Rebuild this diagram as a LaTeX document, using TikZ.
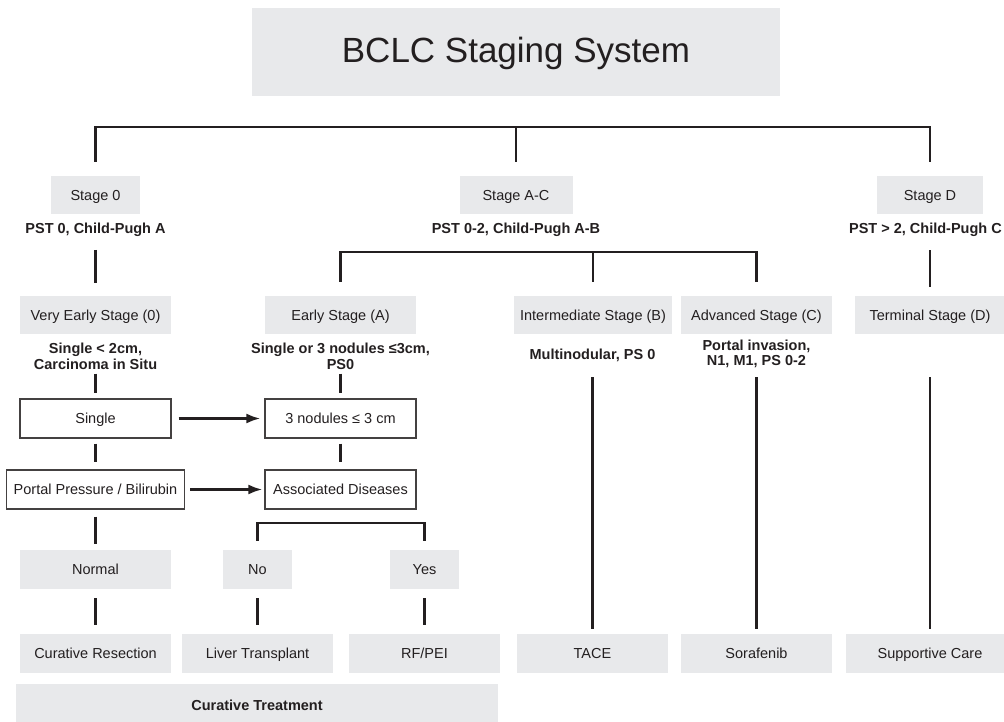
\documentclass[tikz,border=0pt]{standalone}
\usepackage{fontspec}
\setmainfont{Liberation Sans}
\usetikzlibrary{arrows.meta}
\definecolor{boxgrey}{RGB}{232,233,235}
\definecolor{ink}{RGB}{35,31,32}

\begin{document}
\begin{tikzpicture}[x=1pt, y=-1pt, text=ink, font=\fontsize{14.5}{15.5}\selectfont,
		stagebox/.style={fill=boxgrey, minimum height=38pt, inner sep=0pt, text height=10.4pt, text depth=0pt},
		outbox/.style={draw=ink!85, line width=1.2pt, fill=white, minimum width=151pt, minimum height=39pt, inner sep=0pt, text height=10.4pt, text depth=0pt},
		crit/.style={font=\fontsize{14.5}{15.5}\selectfont\bfseries, align=center, inner sep=0pt},
		link/.style={draw=ink, line width=2.5pt},
		flow/.style={link, -{Latex[length=14pt,width=10pt]}}]
	\useasboundingbox (0,0) rectangle (1004,722);

	\node[stagebox, minimum width=528pt, minimum height=88pt, font=\fontsize{35}{40}\selectfont, text height=22pt] (title) at (516,52) {BCLC Staging System};

	\node[stagebox, minimum width=89pt] (stage0) at (95.5,195) {Stage 0};
	\node[stagebox, minimum width=113pt] (stageAC) at (516,195) {Stage A-C};
	\node[stagebox, minimum width=106pt] (stageD) at (930,195) {Stage D};
	\node[crit] (pst0) at (95.5,230) {PST 0, Child-Pugh A};
	\node[crit] (pstAC) at (516,230) {PST 0-2, Child-Pugh A-B};
	\node[crit, anchor=east] (pstD) at (1002,230) {PST > 2, Child-Pugh C};

	\node[stagebox, minimum width=151pt] (vestage) at (95.5,315) {Very Early Stage (0)};
	\node[stagebox, minimum width=151pt] (estage) at (340.5,315) {Early Stage (A)};
	\node[stagebox, minimum width=158pt] (istage) at (593,315) {Intermediate Stage (B)};
	\node[stagebox, minimum width=151pt] (astage) at (756.5,315) {Advanced Stage (C)};
	\node[stagebox, minimum width=150pt] (tstage) at (930,315) {Terminal Stage (D)};

	\node[crit] (vetext) at (95.5,356.5) {Single < 2cm,\\Carcinoma in Situ};
	\node[crit] (etext) at (340.5,356.5) {Single or 3 nodules ≤3cm,\\PS0};
	\node[crit] (itext) at (592.5,355) {Multinodular, PS 0};
	\node[crit] (atext) at (756.5,354) {Portal invasion,\\N1, M1, PS 0-2};

	\node[outbox] (single) at (95.5,418.5) {Single};
	\node[outbox] (nodules) at (340.5,418.5) {3 nodules ≤ 3 cm};
	\node[outbox, minimum width=178pt] (portal) at (95.5,489.5) {Portal Pressure / Bilirubin};
	\node[outbox] (assoc) at (340.5,489.5) {Associated Diseases};

	\node[stagebox, minimum width=151pt, minimum height=39pt] (normal) at (95.5,569.5) {Normal};
	\node[stagebox, minimum width=69pt, minimum height=39pt] (no) at (257.5,569.5) {No};
	\node[stagebox, minimum width=69pt, minimum height=39pt] (yes) at (424.5,569.5) {Yes};

	\node[stagebox, minimum width=151pt, minimum height=39pt] (resection) at (95.5,653.5) {Curative Resection};
	\node[stagebox, minimum width=151pt, minimum height=39pt] (transplant) at (257.5,653.5) {Liver Transplant};
	\node[stagebox, minimum width=151pt, minimum height=39pt] (rfpei) at (424.5,653.5) {RF/PEI};
	\node[stagebox, minimum width=151pt, minimum height=39pt] (tace) at (592.5,653.5) {TACE};
	\node[stagebox, minimum width=151pt, minimum height=39pt] (sorafenib) at (756.5,653.5) {Sorafenib};
	\node[stagebox, minimum width=168pt, minimum height=39pt] (support) at (930,653.5) {Supportive Care};
	\node[stagebox, minimum width=482pt, minimum height=42pt, font=\fontsize{14.5}{15.5}\selectfont\bfseries] (curative) at (257,705) {Curative Treatment};

	\draw[link] ([yshift=14pt]stage0.north) |- ([yshift=49pt]stageD.north) -- ([yshift=14pt]stageD.north);
	\draw[link] ([yshift=14pt]stageAC.north) -- ([yshift=49pt]stageAC.north);
	\draw[link] ([yshift=14pt]estage.north) |- ([yshift=44pt]astage.north) -- ([yshift=14pt]astage.north);
	\draw[link] ([yshift=14pt]istage.north) -- ([yshift=44pt]istage.north);
	\draw[link] ([yshift=9pt]tstage.north) -- ([yshift=46pt]tstage.north);

	\draw[link] ([yshift=-20pt]pst0.center) -- ([yshift=13pt]vestage.north);
	\draw[link] ([yshift=-17pt]vetext.center) -- ([yshift=5pt]single.north);
	\draw[link] ([yshift=-17pt]etext.center) -- ([yshift=5pt]nodules.north);
	\draw[link] ([yshift=-5pt]single.south) -- ([yshift=7pt]portal.north);
	\draw[link] ([yshift=-5pt]nodules.south) -- ([yshift=7pt]assoc.north);
	\draw[flow] ([xshift=7pt]single.east) -- ([xshift=-4pt]nodules.west);
	\draw[flow] ([xshift=5pt]portal.east) -- ([xshift=-2pt]assoc.west);
	\draw[link] ([yshift=-7pt]portal.south) -- ([yshift=6pt]normal.north);
	\draw[link] ([yshift=9pt]no.north) |- ([yshift=27pt]yes.north) -- ([yshift=9pt]yes.north);
	\draw[link] ([yshift=-9pt]normal.south) -- ([yshift=9pt]resection.north);
	\draw[link] ([yshift=-9pt]no.south) -- ([yshift=9pt]transplant.north);
	\draw[link] ([yshift=-9pt]yes.south) -- ([yshift=9pt]rfpei.north);
	\draw[link] ([yshift=-22pt]itext.center) -- ([yshift=5pt]tace.north);
	\draw[link] ([yshift=-23pt]atext.center) -- ([yshift=5pt]sorafenib.north);
	\draw[link] ([yshift=-43pt]tstage.south) -- ([yshift=5pt]support.north);
\end{tikzpicture}
\end{document}
